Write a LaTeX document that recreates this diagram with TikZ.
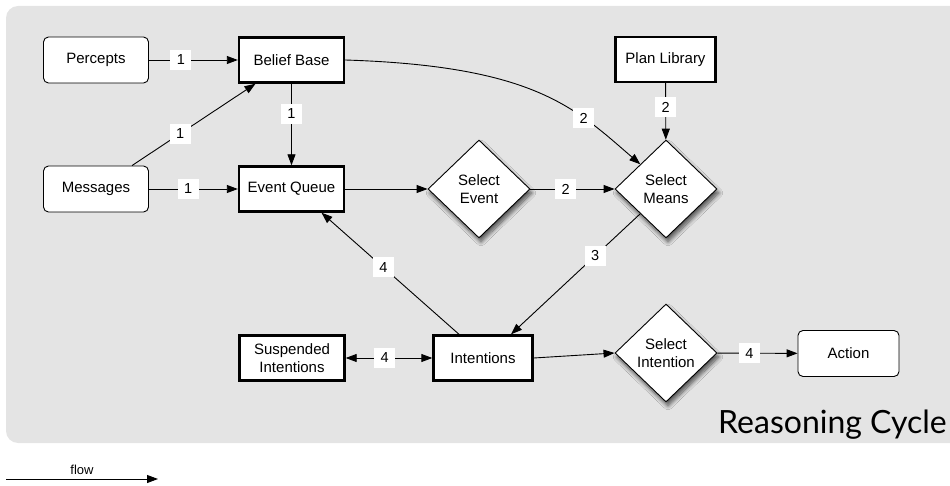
\documentclass[tikz,border=0pt]{standalone}
\usepackage{fontspec}
\setmainfont{Liberation Sans}
\newfontfamily\titlefont{Lato}
\usetikzlibrary{shapes.geometric,arrows.meta,shadows.blur}

\definecolor{panel}{HTML}{E4E4E4}

\tikzset{
  txt/.style={font=\fontsize{15}{17.5}\selectfont, align=center, text=black},
  softbox/.style={txt, draw=black, line width=0.9pt, fill=white, rounded corners=5pt,
    minimum width=105pt, minimum height=46pt, inner sep=0pt},
  hardbox/.style={txt, draw=black, line width=2.4pt, fill=white,
    minimum width=105pt, minimum height=45pt, inner sep=0pt},
  choice/.style={txt, diamond, draw=black, line width=0.9pt, fill=white,
    minimum width=102pt, minimum height=98pt, inner sep=0pt,
    blur shadow={shadow xshift=2pt, shadow yshift=-4pt, shadow blur radius=4pt, shadow blur steps=10, shadow opacity=65}},
  flowline/.style={line width=0.9pt, -{Triangle[length=11pt,width=8pt]}},
  twoway/.style={line width=0.9pt, {Triangle[length=11pt,width=8pt]}-{Triangle[length=11pt,width=8pt]}},
  stepno/.style={fill=white, font=\fontsize{14.5}{14.5}\selectfont, minimum width=21pt, minimum height=20pt, inner sep=0pt},
}

\begin{document}
\begin{tikzpicture}[x=1pt, y=-1pt]
  \useasboundingbox (0,0) rectangle (950,486);

  % panel behind the cycle
  \fill[panel, rounded corners=12pt] (6,6) rectangle (962,443);

  % nodes
  \node[softbox] (perc) at (96,60) {Percepts};
  \node[hardbox] (bb) at (291.5,60) {Belief Base};
  \node[softbox] (msg) at (96,189) {Messages};
  \node[hardbox] (eq) at (291.5,189) {Event Queue};
  \node[choice] (se) at (479,189) {Select\\Event};
  \node[choice] (sm) at (666,189) {Select\\Means};
  \node[hardbox, minimum width=100pt] (pl) at (665.5,59.5) {Plan Library};
  \node[hardbox, minimum width=99pt, minimum height=45pt] (int) at (483,358) {Intentions};
  \node[hardbox, minimum width=105pt, minimum height=45pt] (susp) at (292,358) {Suspended\\Intentions};
  \node[choice] (si) at (666,353) {Select\\Intention};
  \node[softbox, minimum width=101pt, minimum height=46pt] (act) at (848.5,353.5) {Action};

  \node[anchor=base east, font=\titlefont\fontsize{32}{32}\selectfont, inner sep=0pt] (title) at (947,433) {Reasoning Cycle};

  % connectors
  \draw[flowline] (perc) -- node[stepno, pos=0.36] {1} (bb);
  \draw[flowline] ([xshift=36pt]msg.north) -- node[stepno, pos=0.39] {1} ([xshift=-36pt]bb.south);
  \draw[flowline] (bb) -- node[stepno, pos=0.37] {1} (eq);
  \draw[flowline] (msg) -- node[stepno, pos=0.44] {1} (eq);
  \draw[flowline] (eq) -- (se);
  \draw[flowline] (bb.east) .. controls (535,66) and (575,108) .. node[stepno, pos=0.7] {2} (sm.north west);
  \draw[flowline] (pl) -- node[stepno, pos=0.42] {2} (sm);
  \draw[flowline] (se) -- node[stepno, pos=0.42] {2} (sm);
  \draw[flowline] (sm.south west) -- node[stepno, pos=0.35] {3} ([xshift=28pt]int.north);
  \draw[flowline] ([xshift=-24pt]int.north) -- node[stepno, pos=0.55] {4} ([xshift=30pt]eq.south);
  \draw[twoway] (susp) -- node[stepno, pos=0.45] {4} (int);
  \draw[flowline] (int.east) -- (si.west);
  \draw[flowline] (si) -- node[stepno, pos=0.4] {4} (act);

  % legend
  \coordinate (f0) at (6,479);
  \coordinate (f1) at (158,479);
  \draw[flowline] (f0) -- node[above=1pt, font=\fontsize{13}{13}\selectfont] (flowtxt) {flow} (f1);
\end{tikzpicture}
\end{document}
